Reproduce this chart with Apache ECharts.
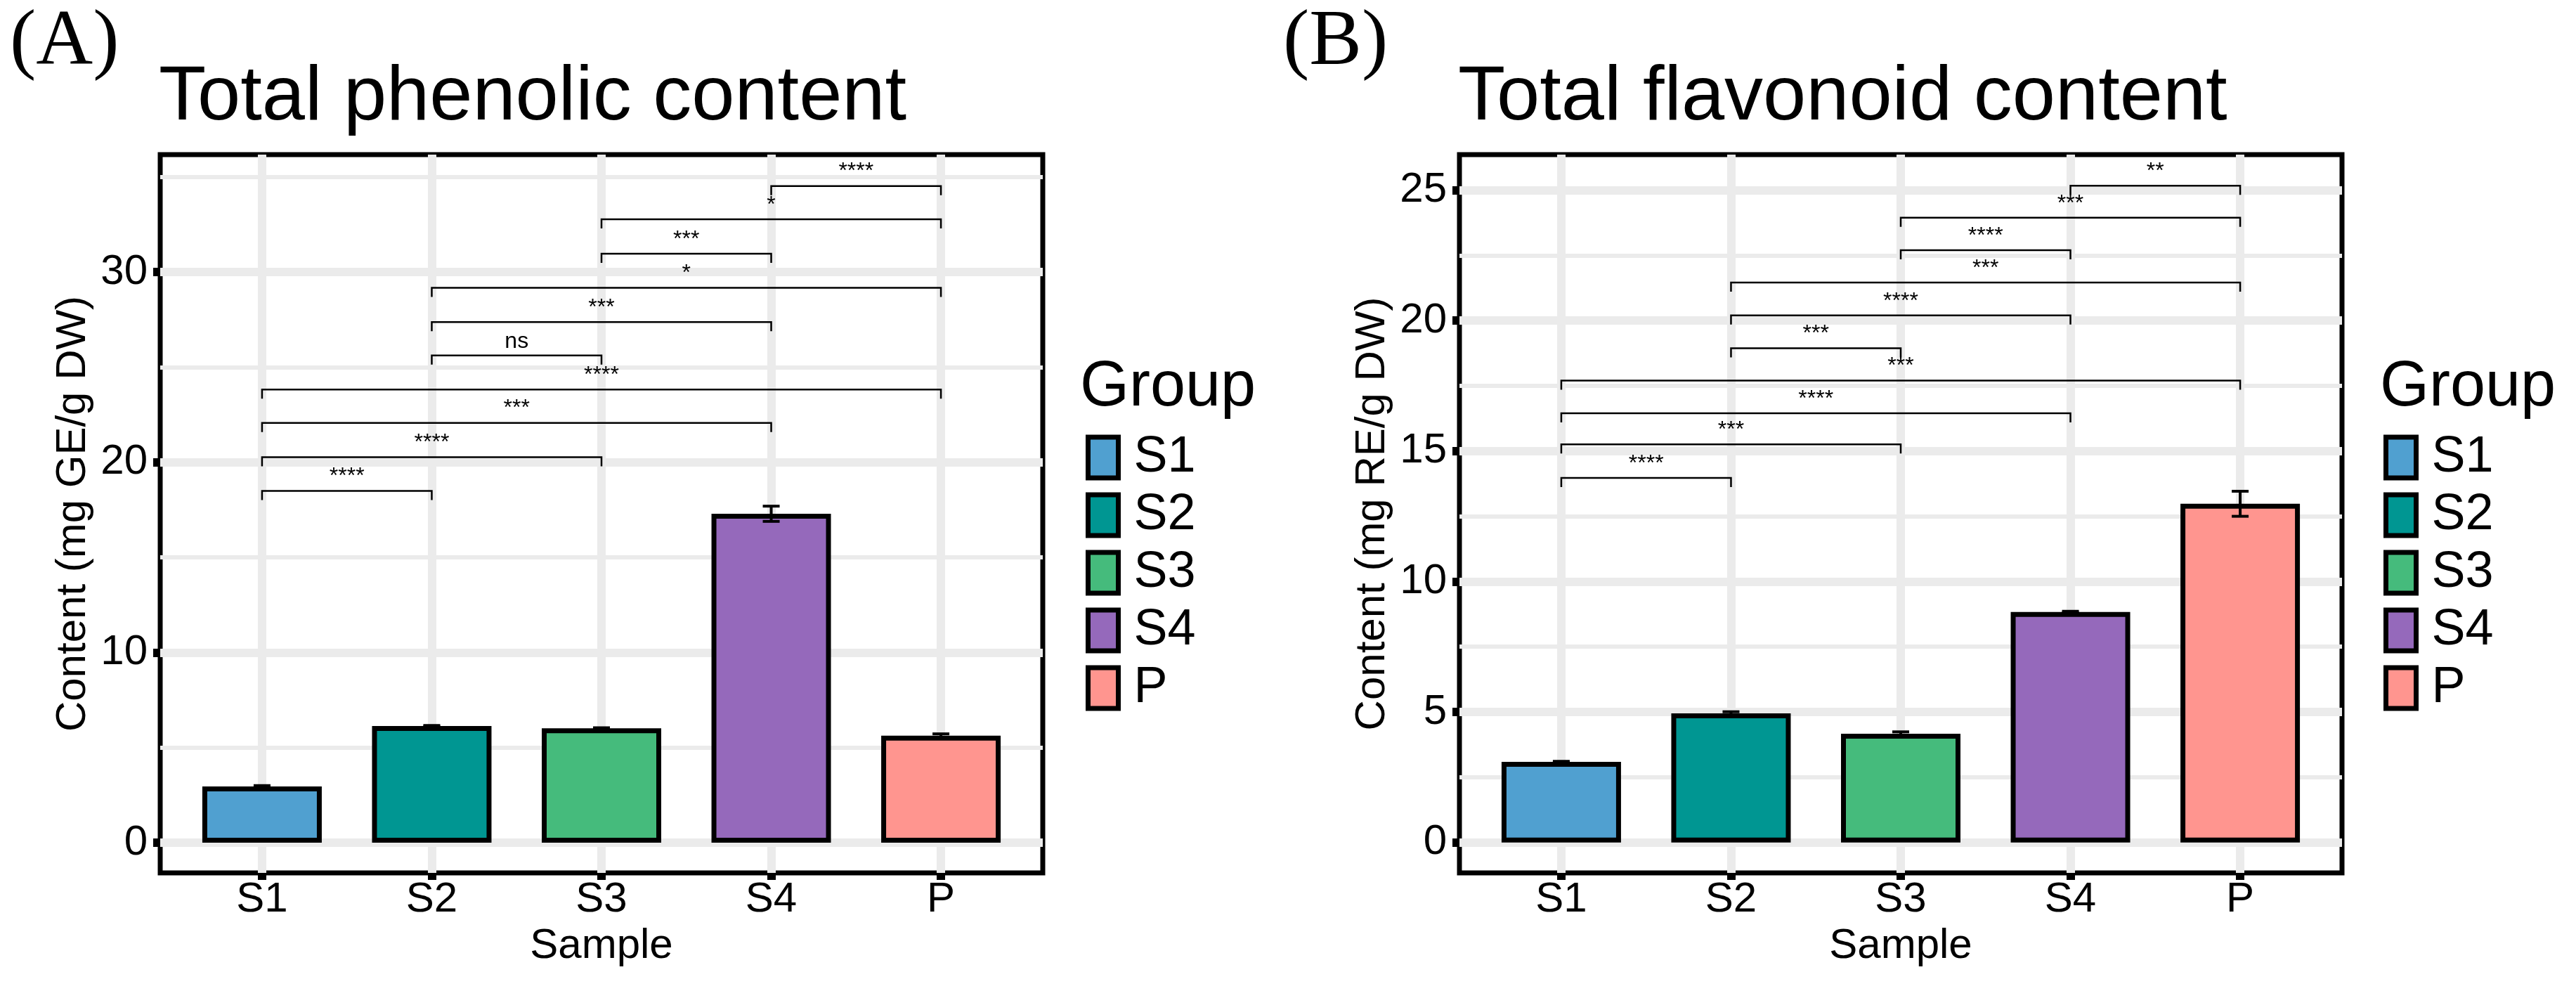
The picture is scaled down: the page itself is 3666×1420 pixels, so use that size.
<!DOCTYPE html>
<html>
<head>
<meta charset="utf-8">
<script src="https://cdn.jsdelivr.net/npm/echarts@6/dist/echarts.min.js"></script>
<style>
html, body { margin: 0; padding: 0; background: #fff; }
#main { width: 3666px; height: 1420px; }
</style>
</head>
<body>
<div id="main"></div>
<script>
var groups = ['S1', 'S2', 'S3', 'S4', 'P'];
var colors = ['#50a0d0', '#009692', '#45bb7c', '#9569bb', '#ff958f'];

// panel A - total phenolic content (mg GE/g DW)
var phenolMean = [2.95, 6.13, 6.01, 17.29, 5.62];
var phenolErr = [0.05, 0.03, 0.03, 0.40, 0.10];
var phenolTicks = [0, 10, 20, 30];
var phenolMinor = [5, 15, 25, 35];
var phenolSig = [
  ['S4', 'P', 34.52, '****'],
  ['S3', 'P', 32.77, '*'],
  ['S3', 'S4', 30.96, '***'],
  ['S2', 'P', 29.17, '*'],
  ['S2', 'S4', 27.37, '***'],
  ['S2', 'S3', 25.61, 'ns'],
  ['S1', 'P', 23.82, '****'],
  ['S1', 'S4', 22.07, '***'],
  ['S1', 'S3', 20.26, '****'],
  ['S1', 'S2', 18.49, '****']
];

// panel B - total flavonoid content (mg RE/g DW)
var flavMean = [3.09, 4.95, 4.17, 8.83, 12.98];
var flavErr = [0.02, 0.06, 0.07, 0.03, 0.48];
var flavTicks = [0, 5, 10, 15, 20, 25];
var flavMinor = [2.5, 7.5, 12.5, 17.5, 22.5];
var flavSig = [
  ['S4', 'P', 25.17, '**'],
  ['S3', 'P', 23.94, '***'],
  ['S3', 'S4', 22.70, '****'],
  ['S2', 'P', 21.46, '***'],
  ['S2', 'S4', 20.20, '****'],
  ['S2', 'S3', 18.94, '***'],
  ['S1', 'P', 17.70, '***'],
  ['S1', 'S4', 16.45, '****'],
  ['S1', 'S3', 15.26, '***'],
  ['S1', 'S2', 13.97, '****']
];

var FONT = 'Liberation Sans, Arial, sans-serif';
var catPos = [1, 2, 3, 4, 5];

function xAxisFor(idx) {
  return {
    gridIndex: idx, type: 'value', min: 0.4, max: 5.6,
    name: 'Sample', nameLocation: 'middle', nameGap: 74,
    nameTextStyle: { fontFamily: FONT, fontSize: 60, color: '#000' },
    axisLine: { show: false, onZero: false },
    axisTick: { show: true, length: 10, customValues: catPos, lineStyle: { color: '#000', width: 12 } },
    axisLabel: {
      customValues: catPos, margin: 8, fontFamily: FONT, fontSize: 60, color: '#000',
      formatter: function (v) { return groups[Math.round(v) - 1]; }
    },
    splitLine: { show: true, lineStyle: { color: '#ebebeb', width: 12 } }
  };
}

function yAxesFor(idx, min, max, ticks, minor, name) {
  return [{
    gridIndex: idx, type: 'value', min: min, max: max, position: 'left',
    name: name, nameLocation: 'middle', nameGap: 94, nameRotate: 90,
    nameTextStyle: { fontFamily: FONT, fontSize: 60, color: '#000' },
    axisLine: { show: false, onZero: false },
    axisTick: { show: true, length: 10, customValues: ticks, lineStyle: { color: '#000', width: 12 } },
    axisLabel: { customValues: ticks, margin: 18, fontFamily: FONT, fontSize: 60, color: '#000' },
    splitLine: { show: true, lineStyle: { color: '#ebebeb', width: 12 } }
  }, {
    gridIndex: idx, type: 'value', min: min, max: max, position: 'right',
    axisLine: { show: false, onZero: false },
    axisTick: { show: false, customValues: minor },
    axisLabel: { show: false, customValues: minor },
    splitLine: { show: true, lineStyle: { color: '#ebebeb', width: 6 } }
  }];
}

function barSeries(idx, means) {
  return groups.map(function (g, i) {
    return {
      type: 'bar', name: g, xAxisIndex: idx, yAxisIndex: idx * 2,
      data: [[i + 1, means[i]]],
      barWidth: 170, barGap: '-100%',
      itemStyle: { color: colors[i], borderColor: '#000', borderWidth: 7 },
      emphasis: { disabled: true }, z: 2
    };
  });
}

function errSeries(idx, means, errs) {
  return {
    type: 'custom', xAxisIndex: idx, yAxisIndex: idx * 2, z: 4,
    data: means.map(function (m, i) { return [i + 1, m, errs[i]]; }),
    encode: { x: 0, y: 1 },
    renderItem: function (params, api) {
      var x = api.value(0), m = api.value(1), e = api.value(2);
      var t = api.coord([x, m + e]), b = api.coord([x, m - e]);
      var st = { stroke: '#000', lineWidth: 4 };
      return {
        type: 'group', children: [
          { type: 'line', shape: { x1: t[0], y1: t[1], x2: b[0], y2: b[1] }, style: st },
          { type: 'line', shape: { x1: t[0] - 12, y1: t[1], x2: t[0] + 12, y2: t[1] }, style: st },
          { type: 'line', shape: { x1: b[0] - 12, y1: b[1], x2: b[0] + 12, y2: b[1] }, style: st }
        ]
      };
    }
  };
}

function sigSeries(idx, sig) {
  return {
    type: 'custom', xAxisIndex: idx, yAxisIndex: idx * 2, z: 5,
    data: sig.map(function (s) {
      return [groups.indexOf(s[0]) + 1, groups.indexOf(s[1]) + 1, s[2]];
    }),
    encode: { x: [0, 1], y: 2 },
    renderItem: function (params, api) {
      var s = sig[params.dataIndex];
      var a = api.coord([api.value(0), api.value(2)]);
      var b = api.coord([api.value(1), api.value(2)]);
      return {
        type: 'group', children: [
          {
            type: 'polyline',
            shape: { points: [[a[0], a[1] + 13], [a[0], a[1]], [b[0], b[1]], [b[0], b[1] + 13]] },
            style: { stroke: '#000', lineWidth: 2.5, fill: null }
          },
          {
            type: 'text',
            style: {
              text: s[3], x: (a[0] + b[0]) / 2, y: a[1] - 20,
              font: '32px ' + FONT, fill: '#000', align: 'center', verticalAlign: 'middle'
            }
          }
        ]
      };
    }
  };
}

function legendFor(left) {
  return {
    orient: 'vertical', left: left, top: 615, padding: 0,
    itemWidth: 43, itemHeight: 58, itemGap: 10, icon: 'rect',
    data: groups, selectedMode: false,
    itemStyle: { borderColor: '#000', borderWidth: 7 },
    textStyle: { fontFamily: FONT, fontSize: 72, color: '#000', lineHeight: 58, padding: [0, 0, 0, 17] }
  };
}

function txt(x, y, text, font) {
  return {
    type: 'text', x: x, y: y,
    style: { text: text, font: font, fill: '#000', align: 'left', verticalAlign: 'middle' }
  };
}

var chart = echarts.init(document.getElementById('main'));
var yA = yAxesFor(0, -1.59, 36.17, phenolTicks, phenolMinor, 'Content (mg GE/g DW)');
var yB = yAxesFor(1, -1.166, 26.36, flavTicks, flavMinor, 'Content (mg RE/g DW)');

chart.setOption({
  animation: false,
  backgroundColor: '#fff',
  grid: [
    { left: 228, top: 220, width: 1256, height: 1022, show: true, borderColor: '#000', borderWidth: 7, backgroundColor: '#fff', outerBoundsMode: 'none' },
    { left: 2077, top: 220, width: 1256, height: 1022, show: true, borderColor: '#000', borderWidth: 7, backgroundColor: '#fff', outerBoundsMode: 'none' }
  ],
  xAxis: [xAxisFor(0), xAxisFor(1)],
  yAxis: yA.concat(yB),
  legend: [legendFor(1545), legendFor(3392)],
  series: barSeries(0, phenolMean)
    .concat([errSeries(0, phenolMean, phenolErr), sigSeries(0, phenolSig)])
    .concat(barSeries(1, flavMean))
    .concat([errSeries(1, flavMean, flavErr), sigSeries(1, flavSig)]),
  graphic: [
    txt(14, 62, '(A)', '112px Liberation Serif, Times New Roman, serif'),
    txt(1826, 62, '(B)', '112px Liberation Serif, Times New Roman, serif'),
    txt(226, 140, 'Total phenolic content', '110px ' + FONT),
    txt(2075, 140, 'Total flavonoid content', '110px ' + FONT),
    txt(1537, 552, 'Group', '90px ' + FONT),
    txt(3387, 552, 'Group', '90px ' + FONT)
  ]
});
</script>
</body>
</html>
